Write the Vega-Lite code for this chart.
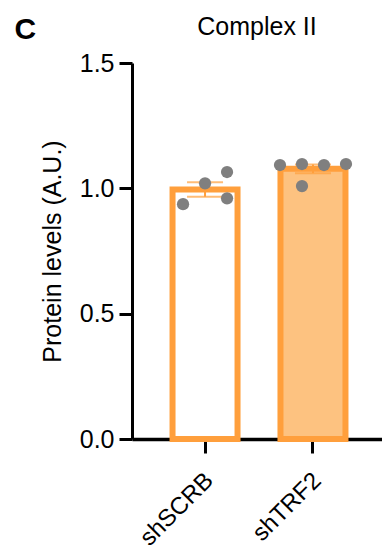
{
  "$schema": "https://vega.github.io/schema/vega-lite/v6.json",
  "width": 250,
  "height": 376,
  "autosize": {"type": "none"},
  "padding": {"left": 132, "top": 63, "right": 0, "bottom": 111},
  "background": "white",
  "config": {
    "view": {"stroke": null},
    "font": "Liberation Sans",
    "axis": {"grid": false, "domainColor": "black", "tickColor": "black", "labelColor": "black", "titleColor": "black", "labelFont": "Liberation Sans", "titleFont": "Liberation Sans", "zindex": 1}
  },
  "title": {"text": "Complex II", "anchor": "middle", "fontSize": 25, "fontWeight": "normal", "font": "Liberation Sans", "color": "black", "offset": 0, "dy": 26},
  "data": {
    "values": [
      {"group": "shSCRB", "value": 0.937, "col": -2},
      {"group": "shSCRB", "value": 1.02, "col": 0},
      {"group": "shSCRB", "value": 1.065, "col": 2},
      {"group": "shSCRB", "value": 0.96, "col": 2},
      {"group": "shTRF2", "value": 1.093, "col": -3},
      {"group": "shTRF2", "value": 1.097, "col": -1},
      {"group": "shTRF2", "value": 1.009, "col": -1},
      {"group": "shTRF2", "value": 1.093, "col": 1},
      {"group": "shTRF2", "value": 1.097, "col": 3}
    ]
  },
  "layer": [
    {
      "mark": {"type": "bar", "stroke": "#FF9F3C", "strokeWidth": 6, "width": 65},
      "encoding": {
        "x": {
          "field": "group", "type": "nominal", "sort": ["shSCRB", "shTRF2"],
          "scale": {"paddingInner": 0.398, "paddingOuter": 0.357, "align": 0.526},
          "axis": {"title": null, "orient": "bottom", "labelAngle": -45, "labelFontSize": 24, "tickSize": 14, "tickWidth": 3, "domainWidth": 3.5, "labelPadding": 15, "labelOffset": -4}
        },
        "y": {
          "aggregate": "mean", "field": "value", "type": "quantitative",
          "scale": {"domain": [0, 1.5], "nice": false, "zero": true},
          "title": "Protein levels (A.U.)",
          "axis": {"titleFontSize": 25, "titleFontWeight": "normal", "titlePadding": 14, "values": [0, 0.5, 1, 1.5], "format": ".1f", "labelFontSize": 25, "tickSize": 13, "tickWidth": 3, "domainWidth": 3, "labelPadding": 5}
        },
        "fill": {"field": "group", "type": "nominal", "scale": {"domain": ["shSCRB", "shTRF2"], "range": ["#FFFFFF", "#FDC280"]}, "legend": null}
      }
    },
    {
      "mark": {"type": "errorbar", "extent": "stderr", "color": "#FF9F3C", "thickness": 2, "ticks": {"size": 36, "thickness": 2, "color": "#FF9F3C"}},
      "encoding": {
        "x": {"field": "group", "type": "nominal", "sort": ["shSCRB", "shTRF2"], "axis": null},
        "y": {"field": "value", "type": "quantitative", "title": "Protein levels (A.U.)"}
      }
    },
    {
      "mark": {"type": "point", "filled": true, "color": "#7F7F7F", "opacity": 1, "size": 150},
      "encoding": {
        "x": {"field": "group", "type": "nominal", "sort": ["shSCRB", "shTRF2"], "axis": null},
        "y": {"field": "value", "type": "quantitative", "title": "Protein levels (A.U.)"},
        "xOffset": {"field": "col", "type": "quantitative", "scale": {"domain": [-3, 3], "range": [-0.5, 65.5]}}
      }
    },
    {
      "mark": {"type": "point", "opacity": 0},
      "encoding": {
        "x": {"field": "group", "type": "nominal", "sort": ["shSCRB", "shTRF2"],
          "axis": {"orient": "top", "title": "C", "titleFontSize": 30, "titleFontWeight": "bold", "titleAngle": 0, "titleX": -118, "titleY": -25, "titleAlign": "left", "titleBaseline": "alphabetic", "labels": false, "ticks": false, "domain": false}},
        "y": {"field": "value", "type": "quantitative", "title": "Protein levels (A.U.)"}
      }
    }
  ],
  "resolve": {"axis": {"x": "independent"}}
}
